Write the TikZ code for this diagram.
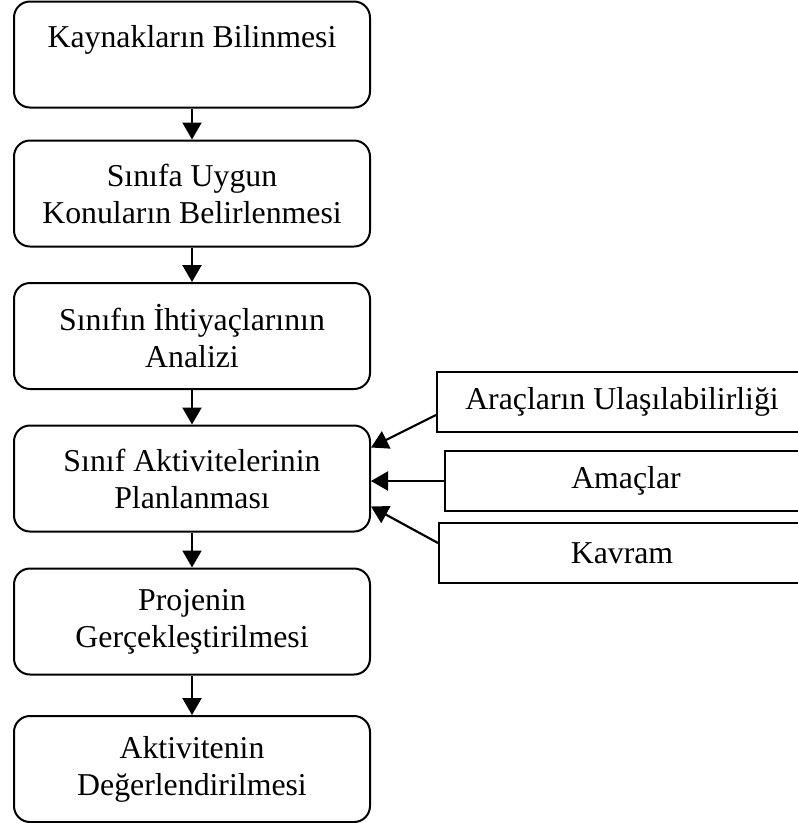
\documentclass[tikz,border=0pt]{standalone}
\usepackage{fontspec}
\setmainfont{Liberation Serif}
\usetikzlibrary{arrows.meta}

\begin{document}
\begin{tikzpicture}[x=1pt, y=-1pt]
    % --- styles ---
    \tikzstyle{stepbox}=[draw, line width=2pt, rounded corners=16pt, align=center,
        minimum width=356pt, minimum height=106pt, inner sep=0pt,
        font=\fontsize{31.8}{37}\selectfont]
    \tikzstyle{sidebox}=[draw, line width=2pt, align=center,
        minimum height=60pt, inner sep=0pt,
        font=\fontsize{31.8}{37}\selectfont]
    \tikzstyle{flow}=[-{Triangle[length=17pt, width=19pt]}, line width=2.2pt, black]

    % 1. page frame
    \useasboundingbox (0,0) rectangle (798,823);
    \clip (0,0) rectangle (798,823);

    % 2. main steps (left column)
    \node[stepbox] (kaynak) at (192,54.5) {Kaynakların Bilinmesi\\~};
    \node[stepbox] (konu)   at (192,193.5) {Sınıfa Uygun\\Konuların Belirlenmesi};
    \node[stepbox] (analiz) at (192,336) {Sınıfın İhtiyaçlarının\\Analizi};
    \node[stepbox] (plan)   at (192,478.5) {Sınıf Aktivitelerinin\\Planlanması};
    \node[stepbox] (proje)  at (192,621.5) {Projenin\\Gerçekleştirilmesi};
    \node[stepbox] (deger)  at (192,769) {Aktivitenin\\Değerlendirilmesi};

    % 3. inputs (right column, cut by the page edge)
    \node[sidebox, minimum width=370pt] (arac)   at (622,402) {Araçların Ulaşılabilirliği};
    \node[sidebox, minimum width=362pt] (amac)   at (626,481) {Amaçlar};
    \node[sidebox, minimum width=366pt] (kavram) at (622,553) {Kavram};

    % 4. flow between steps
    \draw[flow] (kaynak) -- (konu);
    \draw[flow] (konu) -- (analiz);
    \draw[flow] (analiz) -- (plan);
    \draw[flow] (plan) -- (proje);
    \draw[flow] (proje) -- (deger);

    % 5. inputs into the planning step
    \draw[flow] ([yshift=-13pt]arac.west) -- ([yshift=31pt]plan.east);
    \draw[flow] (amac.west) -- (amac.west -| plan.east);
    \draw[flow] ([yshift=10pt]kavram.west) -- ([yshift=-28pt]plan.east);

\end{tikzpicture}
\end{document}
